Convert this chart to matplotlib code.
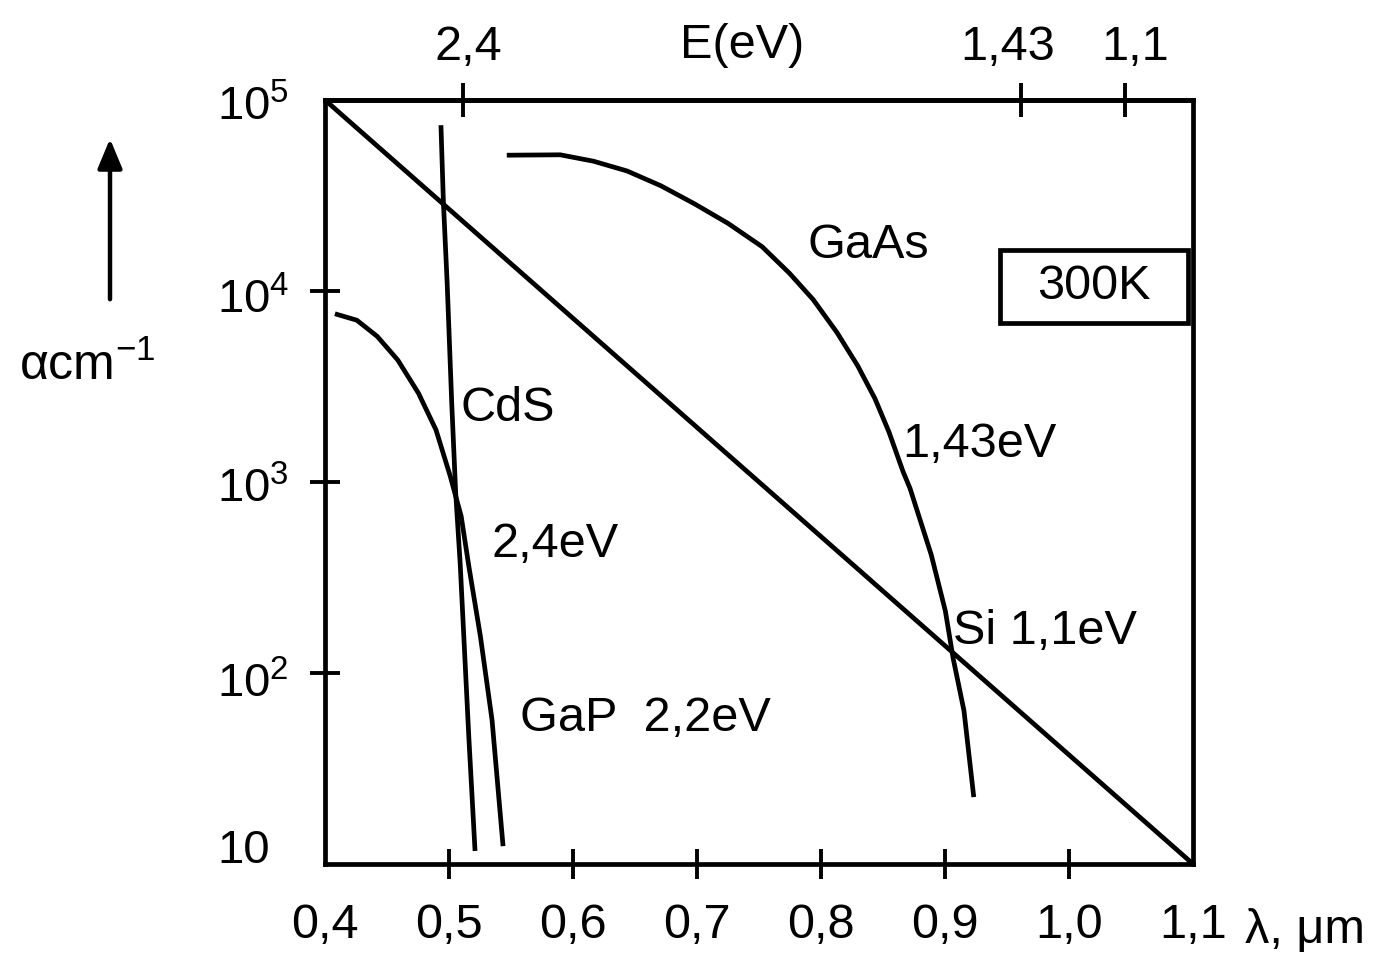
import matplotlib
matplotlib.use('Agg')
import matplotlib.pyplot as plt
from matplotlib.patches import Rectangle

plt.rcParams['font.family'] = ['Liberation Sans', 'DejaVu Sans']
plt.rcParams['mathtext.fontset'] = 'custom'
plt.rcParams['mathtext.rm'] = 'Liberation Sans'
plt.rcParams['mathtext.it'] = 'Liberation Sans:italic'
plt.rcParams['mathtext.bf'] = 'Liberation Sans:bold'

# ---- data ----
x_ticks = [0.4, 0.5, 0.6, 0.7, 0.8, 0.9, 1.0, 1.1]
x_tick_labels = ['0,4', '0,5', '0,6', '0,7', '0,8', '0,9', '1,0', '1,1']
y_ticks = [1e2, 1e3, 1e4]
y_label_texts = [r'$\mathregular{10^5}$', r'$\mathregular{10^4}$', r'$\mathregular{10^3}$',
                 r'$\mathregular{10^2}$', '10']
e_ticks_um = [0.511, 0.961, 1.045]
e_tick_labels = ['2,4', '1,43', '1,1']

si_x = [0.4, 1.1]
si_y = [1e5, 10]

cds_x = [0.4935, 0.4955, 0.4985, 0.5022, 0.5054, 0.509, 0.516, 0.521]
cds_y = [73800, 29000, 11070, 2594, 874, 376, 46, 11.7]

gap_x = [0.408, 0.4257, 0.4422, 0.4587, 0.4754, 0.4895, 0.5010, 0.5098, 0.516,
         0.5253, 0.5347, 0.5436]
gap_y = [7600, 7030, 5780, 4350, 2915, 1875, 1073, 663, 362, 156, 56.8, 12.4]

gaas_x = [0.5466, 0.5897, 0.6166, 0.6436, 0.6709, 0.698, 0.7252, 0.7525, 0.7744,
          0.7936, 0.8129, 0.8296, 0.8436, 0.8548, 0.8662, 0.8718, 0.8889, 0.9003,
          0.9065, 0.9153, 0.9232]
gaas_y = [51400, 51650, 47800, 42500, 35550, 28600, 22560, 17060, 12420, 9030,
          6060, 4060, 2725, 1828, 1132, 926, 416, 211, 120, 63.5, 22.4]

W, H = 1393, 965
fig = plt.figure(figsize=(W / 100, H / 100), dpi=100)
L, R, T, B = 325, 1193, 100, 864
ax = fig.add_axes([L / W, 1 - B / H, (R - L) / W, (B - T) / H])

lw = 3.4
for xs, ys in [(si_x, si_y), (cds_x, cds_y), (gap_x, gap_y), (gaas_x, gaas_y)]:
    ax.plot(xs, ys, color='black', lw=lw, solid_joinstyle='round', solid_capstyle='butt')

ax.set_yscale('log')
ax.set_xlim(0.4, 1.1)
ax.set_ylim(10, 1e5)

for s in ax.spines.values():
    s.set_linewidth(3.4)

ax.set_xticks(x_ticks)
ax.set_xticklabels(x_tick_labels, fontsize=35)
ax.tick_params(axis='x', direction='inout', length=22, width=2.8, pad=17)
xt = ax.xaxis.get_major_ticks()
xt[0].tick1line.set_visible(False)
xt[-1].tick1line.set_visible(False)

ax.yaxis.set_minor_locator(matplotlib.ticker.NullLocator())
ax.set_yticks(y_ticks)
ax.set_yticklabels(['', '', ''])
ax.tick_params(axis='y', direction='inout', length=22, width=2.8)

sec = ax.secondary_xaxis('top')
sec.set_xticks(e_ticks_um)
sec.set_xticklabels(['', '', ''])
sec.tick_params(direction='inout', length=24, width=2.8)
sec.spines['top'].set_linewidth(3.4)

# top labels
top_label_px = [(468, '2,4'), (1008, '1,43'), (1135, '1,1')]
for px, lab in top_label_px:
    fig.text(px / W, 1 - 48 / H, lab, fontsize=35, ha='center', va='center')
fig.text(742 / W, 1 - 45 / H, 'E(eV)', fontsize=35, ha='center', va='center')

# y labels (left-aligned)
y_base_px = [120, 313, 502, 697, 863]
for py, lab in zip(y_base_px, y_label_texts):
    fig.text(217 / W, 1 - py / H, lab, fontsize=34, ha='left', va='baseline')

# axis titles
fig.text(1305 / W, 1 - 930 / H, 'λ, μm', fontsize=35, ha='center', va='center')
fig.text(87 / W, 1 - 366 / H, r'αcm$^{\mathregular{-1}}$', fontsize=36, ha='center', va='center')
ax.annotate('', xy=(110 / W, 1 - 136 / H), xytext=(110 / W, 1 - 302 / H),
            xycoords='figure fraction', textcoords='figure fraction',
            arrowprops=dict(arrowstyle='-|>,head_length=0.6,head_width=0.25',
                            lw=3.2, color='black', mutation_scale=30))

# curve labels
fs = 35
ax.text(0.838, 17400, 'GaAs', fontsize=fs, ha='center', va='center')
ax.text(0.5476, 2440, 'CdS', fontsize=fs, ha='center', va='center')
ax.text(0.928, 1563, '1,43eV', fontsize=fs, ha='center', va='center')
ax.text(0.5855, 468, '2,4eV', fontsize=fs, ha='center', va='center')
ax.text(0.9806, 164, 'Si 1,1eV', fontsize=fs, ha='center', va='center')
ax.text(0.658, 58, 'GaP  2,2eV', fontsize=fs, ha='center', va='center')

# 300K box
x0 = (1000 - L) / (R - L); x1 = (1188 - L) / (R - L)
y0 = (B - 323) / (B - T); y1 = (B - 250) / (B - T)
ax.add_patch(Rectangle((x0, y0), x1 - x0, y1 - y0, transform=ax.transAxes,
                       fill=False, lw=3.4, edgecolor='black'))
ax.text((x0 + x1) / 2, (y0 + y1) / 2, '300K', fontsize=fs, ha='center', va='center',
        transform=ax.transAxes)

fig.savefig('out.png', dpi=100)
